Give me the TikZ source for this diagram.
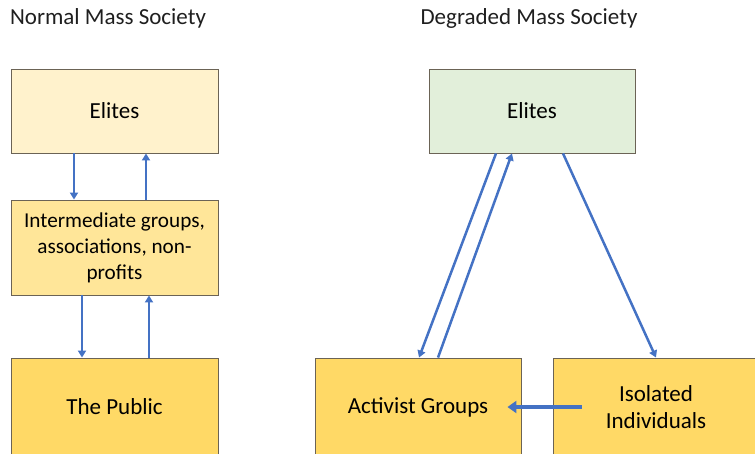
\documentclass[tikz,border=0pt]{standalone}
\usepackage{fontspec}
\setmainfont{Carlito}
\usetikzlibrary{arrows.meta}
\definecolor{paleY}{HTML}{FFF2CC}
\definecolor{midY}{HTML}{FFE699}
\definecolor{goldY}{HTML}{FFD966}
\definecolor{paleG}{HTML}{E2EFDA}
\definecolor{arrowB}{HTML}{4472C4}
\definecolor{bord}{HTML}{6B6355}
\tikzset{
  boxnode/.style={draw=bord, line width=0.9pt, inner sep=0pt, align=center,
    minimum width=207pt, font=\fontsize{23}{26.5}\selectfont, text=black},
  titletext/.style={inner sep=0pt, font=\fontsize{23}{26}\selectfont, text=black!88},
  arr/.style={draw=arrowB, line width=2.5pt, -{Triangle[length=7pt,width=8pt]}},
  bigarr/.style={draw=arrowB, line width=4pt, -{Triangle[length=9pt,width=12pt]}}
}
\begin{document}
\begin{tikzpicture}[x=1pt,y=-1pt]
\useasboundingbox (0,0) rectangle (755,453);
\clip (0,0) rectangle (755,453);
\node[titletext] (t1) at (108,18) {Normal Mass Society};
\node[titletext] (t2) at (529,18) {Degraded Mass Society};
% left column
\node[boxnode, fill=paleY, minimum height=84pt] (eL) at (114.5,111) {Elites};
\node[boxnode, fill=midY, minimum height=95pt, font=\fontsize{21.2}{26}\selectfont] (iL) at (114.5,247.5) {Intermediate groups,\\associations, non-\\profits};
\node[boxnode, fill=goldY, minimum height=98pt] (pL) at (114.5,407) {The Public};
% right side
\node[boxnode, fill=paleG, minimum height=84pt, minimum width=206pt] (eR) at (532,111) {Elites};
\node[boxnode, fill=goldY, minimum height=98pt, minimum width=206pt] (act) at (418,407) {Activist Groups};
\node[boxnode, fill=goldY, minimum height=98pt, minimum width=206pt] (iso) at (656,407) {Isolated\\Individuals};
% left arrows
\draw[arr] ([xshift=-40.5pt]eL.south) -- ([xshift=-40.5pt]iL.north);
\draw[arr] ([xshift=31.5pt]iL.north) -- ([xshift=31.5pt]eL.south);
\draw[arr] ([xshift=-32.5pt]iL.south) -- ([xshift=-32.5pt]pL.north);
\draw[arr] ([xshift=34.5pt]pL.north) -- ([xshift=34.5pt]iL.south);
% right arrows
\draw[arr] ([xshift=-36pt]eR.south) -- ([xshift=1pt]act.north);
\draw[arr] ([xshift=20pt]act.north) -- ([xshift=-20pt]eR.south);
\draw[arr] ([xshift=31pt]eR.south) -- (iso.north);
\draw[bigarr] ([xshift=29pt]iso.west) -- ([xshift=-14pt]act.east);
\end{tikzpicture}
\end{document}
